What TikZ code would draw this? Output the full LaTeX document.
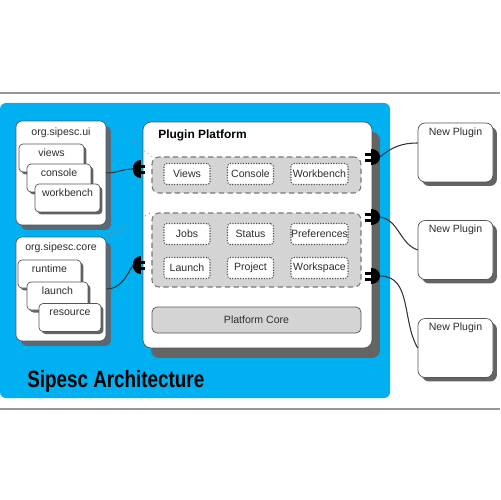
\documentclass[tikz,border=0pt]{standalone}
\usepackage{fontspec}
\setmainfont{Liberation Sans}
\usetikzlibrary{positioning,shadows,calc}
\definecolor{skyblue}{RGB}{0,176,240}
\definecolor{boxline}{RGB}{85,85,85}
\definecolor{groupfill}{RGB}{212,212,212}
\definecolor{shadowgrey}{RGB}{100,100,100}
\definecolor{shadowslate}{RGB}{88,106,120}
\definecolor{labeltext}{RGB}{45,45,45}
\definecolor{rulegrey}{RGB}{150,150,150}

\tikzset{
  small/.style={font=\fontsize{6}{7}\selectfont, text=labeltext},
  bundle/.style={draw=boxline, fill=white, rounded corners=0.12cm, minimum width=1.8cm, minimum height=2.08cm,
    drop shadow={shadow xshift=0.1cm, shadow yshift=-0.1cm, fill=shadowslate, opacity=1}},
  tab/.style={small, draw=boxline, fill=white, rounded corners=0.08cm, inner sep=0pt, text height=0.24cm, text depth=0.32cm,
    drop shadow={shadow xshift=0.05cm, shadow yshift=-0.05cm, fill=shadowgrey, opacity=1}},
  platform/.style={draw=boxline, fill=white, rounded corners=0.16cm, minimum width=4.58cm, minimum height=4.52cm,
    drop shadow={shadow xshift=0.16cm, shadow yshift=-0.2cm, fill=shadowgrey, opacity=1}},
  group/.style={draw=boxline!80, line width=0.6pt, dash pattern=on 3pt off 2pt, fill=groupfill, rounded corners=0.14cm, minimum width=4.18cm},
  cell/.style={small, draw=boxline, line width=0.6pt, dash pattern=on 0.7pt off 0.8pt, fill=white, rounded corners=0.06cm,
    minimum width=0.92cm, minimum height=0.42cm, inner sep=0pt},
  widecell/.style={cell, minimum width=1.14cm},
  corebar/.style={small, draw=boxline, fill=groupfill, rounded corners=0.1cm, minimum width=4.18cm, minimum height=0.52cm},
  newplugin/.style={small, draw=boxline, fill=white, rounded corners=0.14cm, minimum width=1.5cm, inner sep=0pt,
    text height=0.24cm, text depth=0.94cm,
    drop shadow={shadow xshift=0.08cm, shadow yshift=-0.08cm, fill=shadowgrey, opacity=1}},
  wire/.style={draw=black!80, line width=0.6pt},
  guide/.style={draw=black!45, line width=0.5pt, dotted},
  plug in/.pic={
    \fill[black] (8,-9) .. controls (-3,-9) and (-3,9) .. (8,9) -- cycle;
    \fill[black] (7,-4.5) rectangle (12,-1.5);
    \fill[black] (7,1.5) rectangle (12,4.5);
  },
  plug out/.pic={
    \fill[black] (-9,-8) .. controls (3,-8) and (3,8) .. (-9,8) -- cycle;
    \fill[black] (-8,-4.5) rectangle (-15,-1.5);
    \fill[black] (-8,1.5) rectangle (-15,4.5);
  }
}

\begin{document}
\begin{tikzpicture}[x=0.02cm, y=-0.02cm]
  \useasboundingbox (0,0) rectangle (500,500);
  \draw[rulegrey, line width=0.6pt] (0,93) -- (500,93);
  \draw[rulegrey, line width=0.6pt] (0,409) -- (500,409);
  \fill[skyblue, rounded corners=0.12cm] (0,103) rectangle (390,398);

  \node [bundle] (ui) at (61,173) {};
  \node [small] (ui title) at (61,133) {org.sipesc.ui};
  \node [tab, minimum width=1.3cm] (views) at (51.5,158) {views};
  \node [tab, minimum width=1.28cm] (console) at (59,178) {console};
  \node [tab, minimum width=1.3cm] (workbench) at (67.5,198) {workbench};

  \node [bundle] (core) at (61,289) {};
  \node [small] (core title) at (61,248) {org.sipesc.core};
  \node [tab, minimum width=1.26cm] (runtime) at (49.5,274) {runtime};
  \node [tab, minimum width=1.22cm] (launch) at (57.5,296) {launch};
  \node [tab, minimum width=1.24cm] (resource) at (70,317.5) {resource};

  \node [platform] (plat) at (257.5,235) {};
  \node [anchor=west, inner sep=0pt, font=\fontsize{6.8}{8}\selectfont\bfseries] (plat title) at (158,135) {Plugin Platform};
  \node [group, minimum height=0.72cm] (grp1) at (256.5,175) {};
  \node [cell] (v) at (187,174) {Views};
  \node [cell] (c) at (250.5,174) {Console};
  \node [widecell] (w) at (319.5,174) {Workbench};
  \node [group, minimum height=1.48cm] (grp2) at (256.5,250) {};
  \node [cell] (jobs) at (187,234) {Jobs};
  \node [cell] (status) at (250.5,234) {Status};
  \node [widecell] (prefs) at (319.5,234) {Preferences};
  \node [cell] (launch2) at (187,268) {Launch};
  \node [cell] (project) at (250.5,268) {Project};
  \node [widecell] (workspace) at (319.5,268) {Workspace};
  \node [corebar] (platcore) at (256.5,320) {Platform Core};

  \node [newplugin] (np1) at (455.5,152.5) {New Plugin};
  \node [newplugin] (np2) at (455.5,250) {New Plugin};
  \node [newplugin] (np3) at (455.5,348) {New Plugin};

  \node [anchor=base west, inner sep=0pt, font=\fontsize{13.4}{15}\selectfont\bfseries] (arch) at (27,387)
    {\scalebox{0.8}[1]{Sipesc Architecture}};

  \coordinate (sockA) at (133,169);
  \coordinate (sockB) at (133,265);
  \coordinate (outA) at (380,157);
  \coordinate (outB) at (380,217);
  \coordinate (outC) at (380,276);

  \path[wire] (ui.east) to[out=0, in=180] (sockA);
  \path[wire] (core.east) to[out=0, in=-120] (sockB);
  \path[wire] (outA) to[out=40, in=180] ([yshift=0.19cm]np1.west);
  \path[wire] (outB) to[out=-10, in=160] (np2.west);
  \path[wire] (outC) to[out=0, in=120] (np3.west);

  \path[guide] (ui.north east) -- (grp1.north west);
  \path[guide] (core.north east) -- (grp2.north west);

  \pic at (sockA) {plug in};
  \pic at (sockB) {plug in};
  \pic at (outA) {plug out};
  \pic at (outB) {plug out};
  \pic at (outC) {plug out};
\end{tikzpicture}
\end{document}
